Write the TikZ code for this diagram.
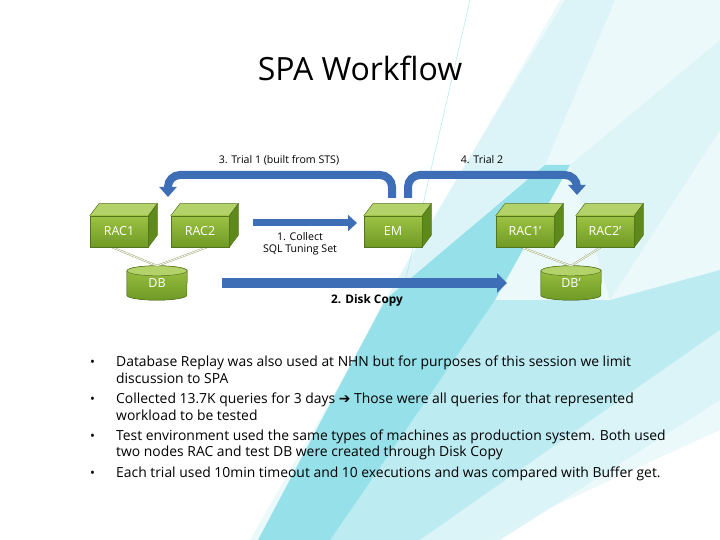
\documentclass[tikz,border=0pt]{standalone}
\usepackage{fontspec}
\setmainfont{Open Sans}
\newfontfamily\symfnt{DejaVu Sans}
\usetikzlibrary{arrows.meta,calc}
\pgfdeclarelayer{back}
\pgfdeclarelayer{bg}
\pgfsetlayers{back,bg,main}

\definecolor{boxtop}{HTML}{B3D36A}
\definecolor{boxfronta}{HTML}{9DC243}
\definecolor{boxfrontb}{HTML}{6E9A24}
\definecolor{boxside}{HTML}{5E8A1C}
\definecolor{boxedge}{HTML}{55741E}
\definecolor{arrowblue}{HTML}{3E6FB6}
\definecolor{linkc}{HTML}{9AA76C}
\definecolor{cyanlight}{HTML}{D6F3F7}
\definecolor{cyanmid}{HTML}{9FE3EC}
\definecolor{cyandark}{HTML}{5BD0DE}

\tikzset{
  front/.style={draw=boxedge, line width=0.5pt, top color=boxfronta, bottom color=boxfrontb,
    minimum width=58pt, minimum height=31pt, inner sep=0pt, text=white,
    font=\fontsize{12.5}{14}\selectfont},
  dbnode/.style={minimum width=60pt, minimum height=34pt, inner sep=0pt, text=white,
    font=\fontsize{12.5}{14}\selectfont},
  link/.style={draw=linkc, double=white, double distance=0.8pt, line width=0.5pt},
  bluearrow/.style={draw=arrowblue, line width=8pt, -{Triangle[width=17pt,length=10pt]}},
  small/.style={font=\fontsize{10.6}{12.5}\selectfont, inner sep=0pt},
  body/.style={font=\fontsize{13.9}{16}\selectfont, anchor=base west, inner sep=0pt},
  bullet/.style={font=\fontsize{13}{15}\selectfont, anchor=base west, inner sep=0pt},
}

\newcommand\cubefaces[1]{%
  \begin{pgfonlayer}{bg}
  \filldraw[draw=boxedge, fill=boxtop, line width=0.5pt] (#1.north west) -- ++(9,-12) -- ($(#1.north east)+(9,-12)$) -- (#1.north east) -- cycle;
  \filldraw[draw=boxedge, fill=boxside, line width=0.5pt] (#1.north east) -- ++(9,-12) -- ($(#1.south east)+(9,-12)$) -- (#1.south east) -- cycle;
  \end{pgfonlayer}}

\newcommand\cylfaces[1]{%
  \begin{pgfonlayer}{bg}
  \filldraw[draw=boxedge, line width=0.5pt, top color=boxfronta, bottom color=boxfrontb]
    ($(#1.north west)+(0,5)$) -- ($(#1.south west)+(0,-5)$)
    arc[start angle=180, end angle=360, x radius=30pt, y radius=5pt]
    -- ($(#1.north east)+(0,5)$)
    arc[start angle=0, end angle=180, x radius=30pt, y radius=5pt] -- cycle;
  \filldraw[draw=boxedge, line width=0.5pt, fill=boxtop] ($(#1.north)+(0,5)$) ellipse[x radius=30pt, y radius=5pt];
  \end{pgfonlayer}}

\begin{document}
\begin{tikzpicture}[x=1pt, y=-1pt]
\useasboundingbox (0,0) rectangle (720,540);

% background streaks
\begin{pgfonlayer}{back}
\fill[white] (0,0) rectangle (720,540);
\fill[cyanlight, opacity=0.45] (250,540) -- (560,0) -- (720,0) -- (720,430) -- (480,540) -- cycle;
\fill[cyanlight, opacity=0.7] (385,300) -- (545,165) -- (615,0) -- (565,0) -- (450,190) -- cycle;
\fill[cyanlight, opacity=0.6] (570,165) -- (720,40) -- (720,130) -- (610,300) -- cycle;
\fill[cyanmid, opacity=0.6] (330,540) -- (420,540) -- (720,330) -- (720,270) -- (610,300) -- (495,300) -- cycle;
\fill[cyanlight, opacity=0.8] (420,540) -- (500,540) -- (720,400) -- (720,330) -- cycle;
\fill[cyandark, opacity=0.6] (258,540) -- (330,540) -- (495,300) -- (570,165) -- (545,165) -- (385,300) -- cycle;
\draw[cyanmid, line width=0.6pt, opacity=0.7] (470,0) -- (355,500);
\end{pgfonlayer}

% title
\node[font=\fontsize{32}{36}\selectfont, inner sep=0pt] (title) at (360,68) {SPA Workflow};

% boxes
\node[front] (rac1) at (119,231.5) {RAC1};
\node[front] (rac2) at (200,231.5) {RAC2};
\node[front] (em) at (393,231.5) {EM};
\node[front] (rac1p) at (525,231.5) {RAC1'};
\node[front] (rac2p) at (605,231.5) {RAC2'};
\cubefaces{rac1}\cubefaces{rac2}\cubefaces{em}\cubefaces{rac1p}\cubefaces{rac2p}

\node[dbnode] (db) at (157,283) {DB};
\node[dbnode] (dbp) at (571,283) {DB'};
\cylfaces{db}\cylfaces{dbp}

% links
\begin{pgfonlayer}{bg}
\draw[link] ([xshift=-7pt]rac1.south) -- (db.north);
\draw[link] ([xshift=7pt]rac2.south) -- (db.north);
\draw[link] ([xshift=-4pt]rac1p.south) -- (dbp.north);
\draw[link] ([xshift=-4pt]rac2p.south) -- (dbp.north);
\end{pgfonlayer}

% arrows
\coordinate (t1s) at (392,198);
\coordinate (t1e) at (168,197);
\coordinate (t2s) at (408,198);
\coordinate (t2e) at (577,195);
\draw[bluearrow, rounded corners=12pt] (t1s) -- ++(0,-23) -| (t1e);
\draw[bluearrow, rounded corners=12pt] (t2s) -- ++(0,-23) -| (t2e);

\coordinate (cs) at (253,223);
\coordinate (ce) at (357,223);
\draw[bluearrow, line width=7pt, -{Triangle[width=16pt,length=9pt]}] (cs) -- (ce);

\coordinate (ds) at (222,283);
\coordinate (de) at (507,283);
\draw[bluearrow, line width=10pt, -{Triangle[width=19pt,length=10pt]}] (ds) -- (de);

% labels
\node[small] (l3) at (279,160) {3. Trial 1 (built from STS)};
\node[small] (l4) at (482,160) {4. Trial 2};
\node[small, align=center] (l1) at (300,243.5) {1. Collect\\SQL Tuning Set};
\node[font=\bfseries\fontsize{11.8}{14}\selectfont, inner sep=0pt] (l2) at (367,300) {2. Disk Copy};

% bullet text
\foreach \yb in {366,403,440,477} {\node[bullet] at (90,\yb) {•};}
\node[body] (b1) at (116,366) {Database Replay was also used at NHN but for purposes of this session we limit};
\node[body] (b1b) at (116,383) {discussion to SPA};
\node[body] (b2) at (116,403) {Collected 13.7K queries for 3 days {\symfnt ➔} Those were all queries for that represented};
\node[body] (b2b) at (116,420) {workload to be tested};
\node[body] (b3) at (116,440) {Test environment used the same types of machines as production system. Both used};
\node[body] (b3b) at (116,456) {two nodes RAC and test DB were created through Disk Copy};
\node[body] (b4) at (116,477) {Each trial used 10min timeout and 10 executions and was compared with Buffer get.};
\end{tikzpicture}
\end{document}
